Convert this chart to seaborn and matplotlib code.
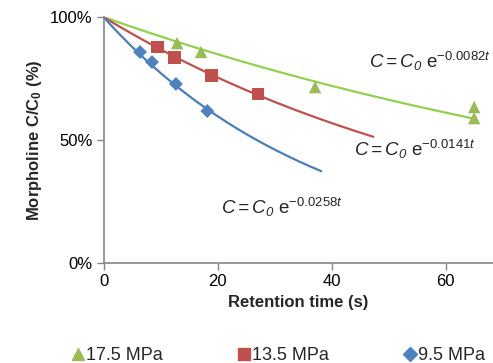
import numpy as np
import pandas as pd
import matplotlib
matplotlib.use("Agg")
import matplotlib.pyplot as plt
import seaborn as sns
from matplotlib.lines import Line2D

# ---- data ----
series = ["17.5 MPa", "13.5 MPa", "9.5 MPa"]
t_175 = [12.9, 17.1, 37.1, 65.0, 65.0]
c_175 = [89.4, 85.8, 71.5, 63.4, 58.9]
t_135 = [9.4, 12.5, 18.9, 27.1]
c_135 = [87.8, 83.7, 76.4, 68.7]
t_95 = [6.4, 8.5, 12.7, 18.2]
c_95 = [85.8, 81.7, 72.8, 61.8]
k_fit = [0.0082, 0.0141, 0.0258]
t_end = [65.0, 47.3, 38.2]
eq_labels = [r"$C = C_0\ \mathsf{e}^{\mathsf{-0.0082}t}$",
             r"$C = C_0\ \mathsf{e}^{\mathsf{-0.0141}t}$",
             r"$C = C_0\ \mathsf{e}^{\mathsf{-0.0258}t}$"]
x_ticks = [0, 20, 40, 60]
y_ticks = [0, 50, 100]
y_ticklabels = ["0%", "50%", "100%"]

marker_colors = ["#9BBB59", "#C0504D", "#4F81BD"]
line_colors = ["#92D050", "#C0504D", "#4A7EBB"]
markers = ["^", "s", "D"]
msizes = [80, 85, 50]

sns.set_theme(style="white")
plt.rcParams["font.family"] = ["Liberation Sans", "DejaVu Sans"]
plt.rcParams["mathtext.fontset"] = "custom"
plt.rcParams["mathtext.rm"] = "Liberation Sans:italic"
plt.rcParams["mathtext.it"] = "Liberation Sans:italic"
plt.rcParams["mathtext.sf"] = "Liberation Sans"
plt.rcParams["mathtext.bf"] = "Liberation Sans:bold"

fig = plt.figure(figsize=(4.93, 3.63), dpi=100)
ax = fig.add_axes([0.21, 0.2755, 0.79, 0.6775])

pts = pd.DataFrame({
    "t": t_175 + t_135 + t_95,
    "c": c_175 + c_135 + c_95,
    "s": [series[0]] * len(t_175) + [series[1]] * len(t_135) + [series[2]] * len(t_95),
})

for i, name in enumerate(series):
    tt = np.linspace(0, t_end[i], 200)
    curve = pd.DataFrame({"t": tt, "c": 100 * np.exp(-k_fit[i] * tt)})
    sns.lineplot(data=curve, x="t", y="c", ax=ax, color=line_colors[i], lw=1.6)

for i, name in enumerate(series):
    sub = pts[pts["s"] == name]
    sns.scatterplot(data=sub, x="t", y="c", ax=ax, marker=markers[i],
                    color=marker_colors[i], s=msizes[i], edgecolor="none",
                    zorder=5)

ax.set_xlim(0, 68.3)
ax.set_ylim(0, 100)
ax.set_xticks(x_ticks)
ax.set_yticks(y_ticks)
ax.set_yticklabels(y_ticklabels)
ax.tick_params(axis="both", labelsize=12, colors="#868686", length=5,
               width=1, direction="out", labelcolor="black", pad=3)
ax.tick_params(left=True, bottom=True)
for sp in ["top", "right"]:
    ax.spines[sp].set_visible(False)
for sp in ["left", "bottom"]:
    ax.spines[sp].set_color("#868686")
    ax.spines[sp].set_linewidth(1.2)
ax.set_xlabel("Retention time (s)", fontsize=12, fontweight="bold", labelpad=4)
ax.set_ylabel(r"Morpholine C/C$_\mathbf{0}$ (%)", fontsize=12,
              fontweight="bold", labelpad=4)

eq_pos = [(46.6, 82.0), (44.0, 46.0), (20.6, 22.6)]
for lab, (x, y) in zip(eq_labels, eq_pos):
    ax.text(x, y, lab, fontsize=13.5, va="center", ha="left")

handles = [Line2D([], [], ls="none", marker=markers[i], color=marker_colors[i],
                  markersize=[9, 9, 7][i]) for i in range(3)]
fig.legend(handles, series, loc="center", bbox_to_anchor=(0.565, 0.02),
           ncol=3, frameon=False, fontsize=13, handlelength=0.6,
           handletextpad=0.15, columnspacing=4.2)

fig.savefig("out.png", dpi=100)
